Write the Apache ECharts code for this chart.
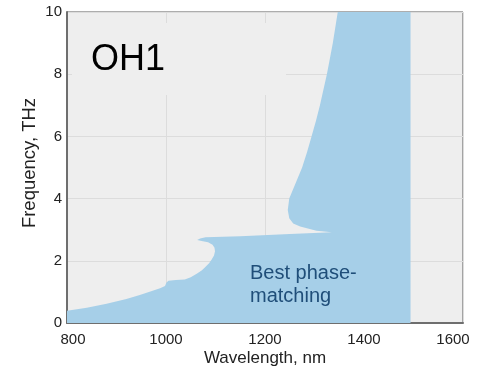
<!DOCTYPE html>
<html>
<head>
<meta charset="utf-8">
<title>OH1 phase-matching</title>
<script src="https://cdn.jsdelivr.net/npm/echarts@6/dist/echarts.min.js"></script>
<style>
  html, body { margin: 0; padding: 0; background: #ffffff; }
  #chart { width: 479px; height: 367px; }
</style>
</head>
<body>
<div id="chart"></div>
<script>
// Outline of the best phase-matching region (wavelength in nm, frequency in THz),
// walked round the boundary starting at the lower-left corner.
const outlineWavelength = [
  800, 800, 840, 880, 920, 947, 970, 988, 998, 1001, 1005, 1020, 1038, 1050, 1062,
  1072, 1079, 1087, 1092, 1097, 1099, 1098, 1094, 1085, 1072, 1063,
  1069, 1080, 1150, 1250, 1335,
  1304, 1271, 1257, 1249, 1246, 1249, 1262, 1275, 1285, 1294, 1303, 1311, 1318, 1325, 1331, 1337, 1342, 1347,
  1494, 1494
];
const outlineFrequency = [
  0, 0.39, 0.49, 0.62, 0.77, 0.90, 1.02, 1.12, 1.19, 1.30, 1.36, 1.38, 1.40, 1.47, 1.58,
  1.69, 1.79, 1.92, 2.03, 2.17, 2.31, 2.42, 2.52, 2.60, 2.64, 2.67,
  2.72, 2.76, 2.79, 2.86, 2.92,
  2.97, 3.10, 3.20, 3.37, 3.63, 4.00, 4.50, 5.00, 5.50, 6.00, 6.50, 7.00, 7.50, 8.00, 8.50, 9.00, 9.50, 10,
  10, 0
];

const wavelengthRange = [800, 1600];
const wavelengthStep = 200;
const frequencyRange = [0, 10];
const frequencyStep = 2;

const crystalLabel = 'OH1';
const regionLabel = 'Best phase-\nmatching';
const xTitle = 'Wavelength, nm';
const yTitle = 'Frequency, THz';

const FONT = "'Liberation Sans', Arial, sans-serif";

const chart = echarts.init(document.getElementById('chart'), null, { renderer: 'canvas' });

chart.setOption({
  animation: false,
  backgroundColor: '#ffffff',
  grid: {
    left: 67, right: 16, top: 12, bottom: 44,
    outerBoundsMode: 'none',
    containLabel: false,
    show: true,
    backgroundColor: '#eeeeee',
    borderColor: '#5a5a5a',
    borderWidth: 1
  },
  xAxis: {
    type: 'value',
    min: wavelengthRange[0],
    max: wavelengthRange[1],
    interval: wavelengthStep,
    name: xTitle,
    nameLocation: 'middle',
    nameGap: 27,
    nameMoveOverlap: false,
    nameTextStyle: { fontFamily: FONT, fontSize: 17, color: '#222222' },
    axisLine: { show: true, onZero: false, lineStyle: { color: '#6e6e6e', width: 2 } },
    axisTick: { show: false },
    splitLine: { show: true, lineStyle: { color: '#dcdcdc', width: 1 } },
    axisLabel: {
      margin: 9,
      fontFamily: FONT,
      fontSize: 15,
      color: '#222222',
      formatter: function (v) {
        if (v === wavelengthRange[0]) return '{first|' + v + '}';
        if (v === wavelengthRange[1]) return '{last|' + v + '}';
        return String(v);
      },
      rich: {
        first: { fontFamily: FONT, fontSize: 15, color: '#222222', padding: [0, 0, 0, 12] },
        last: { fontFamily: FONT, fontSize: 15, color: '#222222', padding: [0, 20, 0, 0] }
      }
    }
  },
  yAxis: {
    type: 'value',
    min: frequencyRange[0],
    max: frequencyRange[1],
    interval: frequencyStep,
    name: yTitle,
    nameLocation: 'middle',
    nameGap: 28,
    nameMoveOverlap: false,
    nameTextStyle: { fontFamily: FONT, fontSize: 18.5, color: '#222222', padding: [0, 0, 0, 9] },
    axisLine: { show: true, onZero: false, lineStyle: { color: '#6e6e6e', width: 2 } },
    axisTick: { show: false },
    splitLine: { show: true, lineStyle: { color: '#dcdcdc', width: 1 } },
    axisLabel: { margin: 5, fontFamily: FONT, fontSize: 15, color: '#222222' }
  },
  graphic: [
    {
      type: 'rect',
      z: 1,
      silent: true,
      shape: { x: 72, y: 23, width: 214, height: 72 },
      style: { fill: '#eeeeee' }
    },
    {
      type: 'text',
      z: 10,
      x: 91,
      y: 60,
      style: {
        text: crystalLabel,
        fontFamily: FONT,
        fontSize: 36,
        fill: '#000000',
        align: 'left', textAlign: 'left',
        verticalAlign: 'middle', textVerticalAlign: 'middle'
      }
    },
    {
      type: 'text',
      z: 10,
      x: 250,
      y: 285,
      style: {
        text: regionLabel,
        fontFamily: FONT,
        fontSize: 20,
        lineHeight: 23,
        fill: '#1f4e79',
        align: 'left', textAlign: 'left',
        verticalAlign: 'middle', textVerticalAlign: 'middle'
      }
    }
  ],
  series: [
    {
      type: 'custom',
      z: 2,
      clip: true,
      silent: true,
      data: [[outlineWavelength[0], outlineFrequency[0]]],
      renderItem: function (params, api) {
        const points = outlineWavelength.map(function (w, i) {
          return api.coord([w, outlineFrequency[i]]);
        });
        return {
          type: 'polygon',
          shape: { points: points },
          style: { fill: '#a6cfe8', stroke: null }
        };
      }
    }
  ]
});
</script>
</body>
</html>
